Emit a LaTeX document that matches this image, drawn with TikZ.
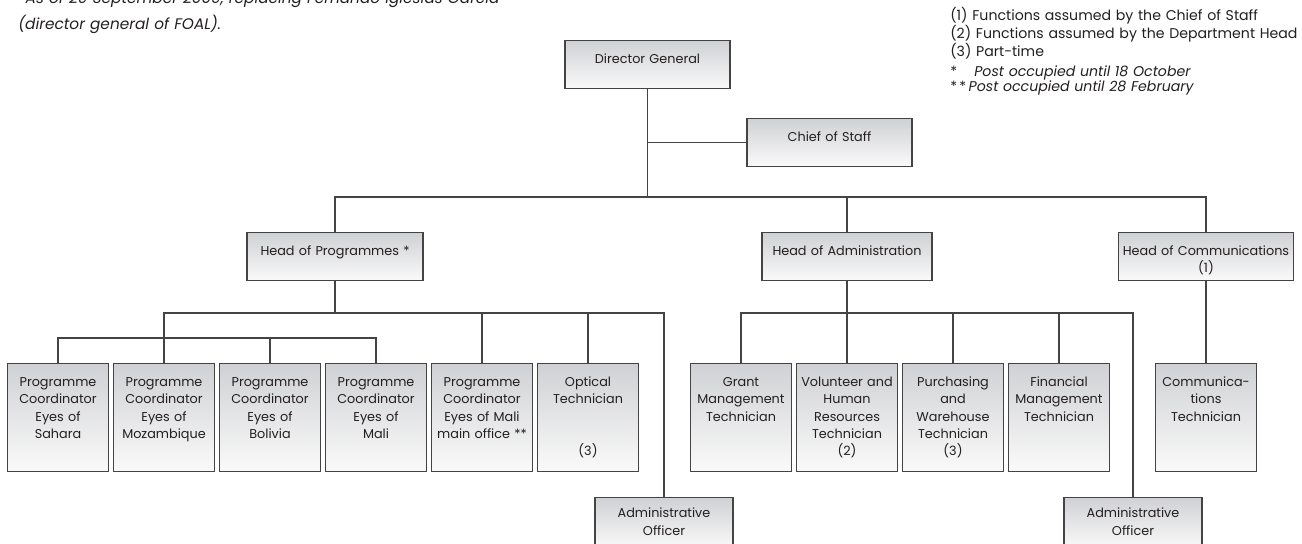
\documentclass[tikz,border=0pt]{standalone}
\usepackage{fontspec}
\setmainfont{Poppins}
\usepackage{tikz}
\usetikzlibrary{positioning}

\definecolor{boxtop}{RGB}{208,209,212}
\definecolor{boxbot}{RGB}{250,250,250}
\definecolor{boxline}{RGB}{68,68,68}
\definecolor{ink}{RGB}{35,31,32}

\begin{document}
\begin{tikzpicture} [
    x=0.75pt, y=-0.75pt,             % one unit per pixel, y going down
    node distance=4mm and 2.65pt,    % gap between boxes of one row
    ]
% -------------------------------------------------
\tikzset{
  base/.style={draw=boxline, line width=1.1pt, top color=boxtop, bottom color=boxbot, align=center, inner sep=0pt, anchor=north, text height=17pt, text=ink, font=\fontsize{9.6}{13}\selectfont},
  head/.style={base, text width=#1, text depth=18.75pt},
  post/.style={base, text width=75.75pt, text depth=63.75pt},
  officer/.style={base, text width=103.5pt, text height=15pt, text depth=23pt},
  note/.style={inner sep=0pt, anchor=base west, align=left, text=ink},
  line/.style={draw=boxline, line width=1.1pt},
}
    \useasboundingbox (0,0) rectangle (1302,543);

    \node [note, text width=400pt, font=\fontsize{11.5}{19.5}\selectfont\itshape] (foot) at (18,3) {*As of 29 September 2009, replacing Fernando Iglesias García\\(director general of FOAL).};
    \node [note, text width=285pt, font=\fontsize{10.6}{11}\selectfont] (key) at (950,20) {(1) Functions assumed by the Chief of Staff\\(2) Functions assumed by the Department Head\\(3) Part-time\\[4pt]\makebox[1.7em][l]{*}\textit{Post occupied until 18 October}\\\makebox[1.3em][l]{*\,*}\textit{Post occupied until 28 February}};

    \node [head=123.75pt] (dg) at (647.5,40) {Director General};
    \node [head=123.75pt] (cos) at (829.5,118) {Chief of Staff};
    \node [head=132pt] (hop) at (335,232) {Head of Programmes *};
    \node [head=127.5pt] (hoa) at (847,232) {Head of Administration};
    \node [head=131.25pt] (hoc) at (1206,232) {Head of Communications\\(1)};

    \node [post] (pc1) at (58,363) {Programme\\Coordinator\\Eyes of\\Sahara};
    \node [post, right=of pc1] (pc2) {Programme\\Coordinator\\Eyes of\\Mozambique};
    \node [post, right=of pc2] (pc3) {Programme\\Coordinator\\Eyes of\\Bolivia};
    \node [post, right=of pc3] (pc4) {Programme\\Coordinator\\Eyes of\\Mali};
    \node [post, right=of pc4] (pc5) {Programme\\Coordinator\\Eyes of Mali\\main office **};
    \node [post, right=of pc5] (opt) {Optical\\Technician\\[26pt](3)};
    \node [officer] (ao1) at (664,497) {Administrative\\Officer};

    \node [post] (grt) at (741,363) {Grant\\Management\\Technician};
    \node [post, right=of grt] (vol) {Volunteer and\\Human\\Resources\\Technician\\(2)};
    \node [post, right=of vol] (pur) {Purchasing\\and\\Warehouse\\Technician\\(3)};
    \node [post, right=of pur] (fin) {Financial\\Management\\Technician};
    \node [officer] (ao2) at (1133,497) {Administrative\\Officer};

    \node [post] (cmt) at (1206,363) {Communica-\\tions\\Technician};

    \coordinate (lvl1) at (0,197);
    \coordinate (lvl2) at (0,313);
    \coordinate (lvl3) at (0,338);

    \path [line] (dg.south) -- (dg.south |- lvl1);
    \path [line] (dg.south |- cos.west) -- (cos.west);
    \path [line] (hop.north) |- (hoc.north |- lvl1) -- (hoc.north);
    \path [line] (hoa.north) -- (hoa.north |- lvl1);

    \path [line] (hop.south) -- (hop.south |- lvl2);
    \path [line] (pc2.north) |- (ao1.north |- lvl2) -- (ao1.north);
    \path [line] (pc1.north) |- (pc4.north |- lvl3) -- (pc4.north);
    \path [line] (pc3.north) -- (pc3.north |- lvl3);
    \path [line] (pc5.north) -- (pc5.north |- lvl2);
    \path [line] (opt.north) -- (opt.north |- lvl2);

    \path [line] (hoa.south) -- (vol.north);
    \path [line] (grt.north) |- (ao2.north |- lvl2) -- (ao2.north);
    \path [line] (pur.north) -- (pur.north |- lvl2);
    \path [line] (fin.north) -- (fin.north |- lvl2);

    \path [line] (hoc.south) -- (cmt.north);

\end{tikzpicture}
\end{document}
